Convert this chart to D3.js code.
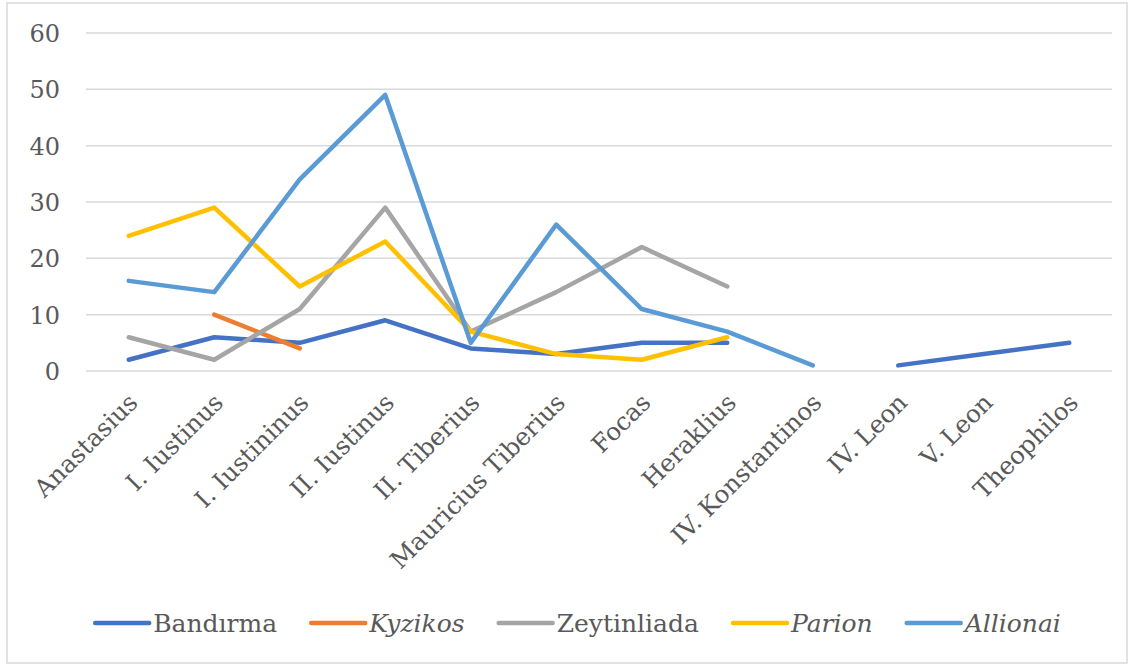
<!DOCTYPE html>
<html>
<head>
<meta charset="utf-8">
<script src="https://cdn.jsdelivr.net/npm/d3@7"></script>
<style>
  html, body { margin: 0; padding: 0; background: #fff; }
  svg { display: block; }
</style>
</head>
<body>
<svg id="chart" width="1133" height="666"></svg>
<script>
const categories = ["Anastasius", "I. Iustinus", "I. Iustininus", "II. Iustinus", "II. Tiberius",
  "Mauricius Tiberius", "Focas", "Heraklius", "IV. Konstantinos", "IV. Leon", "V. Leon", "Theophilos"];
const bandirma    = [2, 6, 5, 9, 4, 3, 5, 5, null, 1, 3, 5];
const kyzikos     = [null, 10, 4, null, null, null, null, null, null, null, null, null];
const zeytinliada = [6, 2, 11, 29, 7, 14, 22, 15, null, null, null, null];
const parion      = [24, 29, 15, 23, 7, 3, 2, 6, null, null, null, null];
const allionai    = [16, 14, 34, 49, 5, 26, 11, 7, 1, null, null, null];
const yTicks = [0, 10, 20, 30, 40, 50, 60];
const seriesNames = ["Bandırma", "Kyzikos", "Zeytinliada", "Parion", "Allionai"];
const seriesItalic = [false, true, false, true, true];
const seriesColors = ["#4472C4", "#ED7D31", "#A5A5A5", "#FFC000", "#5B9BD5"];

(function () {
const series = [bandirma, kyzikos, zeytinliada, parion, allionai].map((v, i) => ({
  name: seriesNames[i], italic: seriesItalic[i], color: seriesColors[i], values: v
}));

const svg = d3.select("#chart");
const pLeft = 86, pRight = 1112, pTop = 33, pBottom = 371;
const textColor = "#595959";
const font = "'DejaVu Serif', serif";

// chart border
svg.append("rect").attr("x", 7).attr("y", 3).attr("width", 1120).attr("height", 660)
  .attr("fill", "#fff").attr("stroke", "#D9D9D9").attr("stroke-width", 1.5);

const x = d3.scalePoint().domain(categories).range([pLeft, pRight]).padding(0.5);
const y = d3.scaleLinear().domain([0, 60]).range([pBottom, pTop]);

// gridlines
svg.append("g").selectAll("line").data(yTicks).join("line")
  .attr("x1", pLeft).attr("x2", pRight)
  .attr("y1", d => y(d)).attr("y2", d => y(d))
  .attr("stroke", "#D9D9D9").attr("stroke-width", 1.5);

// y axis labels
const yAxis = d3.axisLeft(y).tickValues(yTicks).tickSize(0).tickPadding(0);
const yg = svg.append("g").attr("transform", `translate(${pLeft - 26},0)`).call(yAxis);
yg.select(".domain").remove();
yg.selectAll("text").attr("font-family", font).attr("font-size", 24).attr("fill", textColor)
  .attr("dy", "0.36em");

// x axis labels
const xAxis = d3.axisBottom(x).tickSize(0).tickPadding(0);
const xg = svg.append("g").attr("transform", `translate(0,${pBottom})`).call(xAxis);
xg.select(".domain").remove();
xg.selectAll("text")
  .attr("font-family", font).attr("font-size", 24.5).attr("fill", textColor)
  .attr("text-anchor", "end")
  .attr("dy", null).attr("y", 0)
  .attr("transform", "translate(10,33) rotate(-45)");

// lines
const line = d3.line()
  .defined(d => d.v != null)
  .x(d => x(d.c)).y(d => y(d.v));

svg.append("g").selectAll("path").data(series).join("path")
  .attr("d", s => line(s.values.map((v, i) => ({ c: categories[i], v }))))
  .attr("fill", "none")
  .attr("stroke", s => s.color)
  .attr("stroke-width", 4.5)
  .attr("stroke-linecap", "round")
  .attr("stroke-linejoin", "round");

// legend
const legendY = 623;
const lg = svg.append("g");
const items = lg.selectAll("g").data(series).join("g");
items.append("line").attr("x1", 0).attr("x2", 54).attr("y1", 0).attr("y2", 0)
  .attr("stroke", s => s.color).attr("stroke-width", 4.5).attr("stroke-linecap", "round");
items.append("text").attr("x", 58).attr("y", 0).attr("dy", "0.35em")
  .attr("font-family", font).attr("font-size", 25)
  .attr("font-style", s => s.italic ? "italic" : "normal")
  .attr("fill", textColor).text(s => s.name);
let widths = [];
items.each(function () { widths.push(this.getBBox().width); });
const gap = 34;
const total = d3.sum(widths) + gap * (widths.length - 1);
let cx = 578 - total / 2;
items.attr("transform", (d, i) => {
  const t = `translate(${cx},${legendY})`;
  cx += widths[i] + gap;
  return t;
});
})();
</script>
</body>
</html>
